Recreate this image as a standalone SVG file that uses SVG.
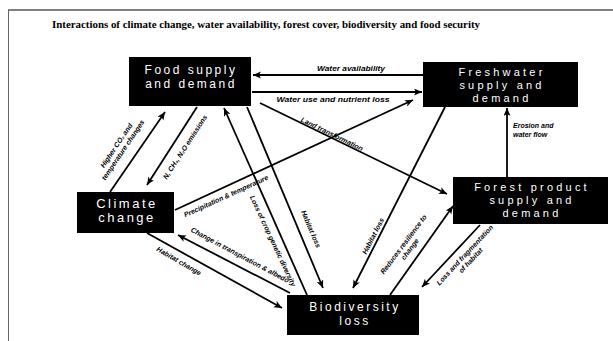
<svg xmlns="http://www.w3.org/2000/svg" width="613" height="341" viewBox="0 0 613 341">
<style>
.node rect{fill:#000}
.node text{fill:#fff;font-family:"Liberation Sans",Arial,sans-serif;font-size:12px;letter-spacing:2.5px;text-anchor:middle}
.node text.s{font-size:11px;letter-spacing:3.2px}
.edge line{stroke:#000;stroke-width:1.8;fill:none}
.lbl{font-family:"Liberation Sans",Arial,sans-serif;font-size:7px;font-style:italic;font-weight:bold;fill:#000;text-anchor:middle}
.title{font-family:"Liberation Serif","Times New Roman",serif;font-weight:bold;font-size:10px;fill:#000}
</style>
<defs>
<marker id="ah" markerUnits="userSpaceOnUse" markerWidth="9" markerHeight="8" refX="8" refY="3.5" orient="auto">
<path d="M0,0 L8,3.5 L0,7 L2,3.5 z" fill="#000"/>
</marker>
</defs>
<rect width="613" height="341" fill="#fff"/>
<line x1="8" y1="10" x2="613" y2="10" stroke="#000" stroke-width="1"/>
<line x1="8.5" y1="10" x2="8.5" y2="341" stroke="#666" stroke-width="1"/>
<text class="title" x="52" y="28" textLength="428" lengthAdjust="spacingAndGlyphs">Interactions of climate change, water availability, forest cover, biodiversity and  food security</text>

<g id="connectors" class="edge">
<line x1="423" y1="75" x2="253" y2="75" marker-end="url(#ah)"/>
<line x1="252" y1="92" x2="422" y2="92" marker-end="url(#ah)"/>
<line x1="260" y1="103" x2="447" y2="194" marker-end="url(#ah)"/>
<line x1="175" y1="210" x2="413" y2="100" marker-end="url(#ah)"/>
<line x1="110" y1="192" x2="165" y2="112" marker-end="url(#ah)"/>
<line x1="197" y1="107" x2="147" y2="185" marker-end="url(#ah)"/>
<line x1="307" y1="295" x2="224" y2="108" marker-end="url(#ah)"/>
<line x1="247" y1="107" x2="323" y2="288" marker-end="url(#ah)"/>
<line x1="445" y1="107" x2="353" y2="288" marker-end="url(#ah)"/>
<line x1="390" y1="295" x2="453" y2="206" marker-end="url(#ah)"/>
<line x1="480" y1="225" x2="422" y2="287" marker-end="url(#ah)"/>
<line x1="507" y1="177" x2="507" y2="108" marker-end="url(#ah)"/>
<line x1="147" y1="233" x2="282" y2="308" marker-end="url(#ah)"/>
<line x1="290" y1="293" x2="178" y2="235" marker-end="url(#ah)"/>

<text class="lbl" x="351" y="71" textLength="68" lengthAdjust="spacingAndGlyphs">Water availability</text>
<text class="lbl" x="333" y="102" textLength="113" lengthAdjust="spacingAndGlyphs">Water use and nutrient loss</text>
<text class="lbl" transform="translate(332,134) rotate(26)" y="2.5">Land transformation</text>
<text class="lbl" transform="translate(226,196) rotate(-24.5)" y="2.5">Precipitation &amp; temperature</text>
<g transform="translate(120,148) rotate(-56)">
<text class="lbl" y="-2">Higher CO₂ and</text>
<text class="lbl" y="6">temperature changes</text>
</g>
<text class="lbl" transform="translate(185,147) rotate(-57)" y="2.5">N, CH₄, N₂O emissions</text>
<text class="lbl" transform="translate(273,241) rotate(65)" y="2.5">Loss of crop genetic diversity</text>
<text class="lbl" transform="translate(311,229) rotate(67)" y="2.5">Habitat loss</text>
<text class="lbl" transform="translate(373,236) rotate(-63)" y="2.5">Habitat loss</text>
<g transform="translate(407,247) rotate(-53)">
<text class="lbl" y="-2">Reduces resilience to</text>
<text class="lbl" y="6">change</text>
</g>
<g transform="translate(468,258) rotate(-47)">
<text class="lbl" y="-2">Loss and fragmentation</text>
<text class="lbl" y="6">of habitat</text>
</g>
<text class="lbl" x="513" y="128" style="text-anchor:start">Erosion and</text>
<text class="lbl" x="513" y="137" style="text-anchor:start">water flow</text>
<text class="lbl" transform="translate(179,261) rotate(30)" y="2.5">Habitat change</text>
<text class="lbl" transform="translate(240,255) rotate(28)" y="2.5">Change in transpiration &amp; albedo</text>
</g>

<g id="food" class="node">
<rect x="129" y="57" width="122" height="49"/>
<text x="191" y="74">Food supply</text>
<text x="191" y="88">and demand</text>
</g>
<g id="freshwater" class="node">
<rect x="423" y="62" width="155" height="45"/>
<text class="s" x="502" y="76">Freshwater</text>
<text class="s" x="502" y="89">supply and</text>
<text class="s" x="502" y="102">demand</text>
</g>
<g id="forest" class="node">
<rect x="453" y="177" width="155" height="47"/>
<text class="s" x="532" y="191">Forest product</text>
<text class="s" x="532" y="204">supply and</text>
<text class="s" x="532" y="217">demand</text>
</g>
<g id="climate" class="node">
<rect x="77" y="192" width="97" height="41"/>
<text x="127" y="208" style="font-size:13px">Climate</text>
<text x="127" y="222" style="font-size:13px">change</text>
</g>
<g id="biodiversity" class="node">
<rect x="287" y="295" width="132" height="40"/>
<text x="355" y="311">Biodiversity</text>
<text x="355" y="325">loss</text>
</g>
</svg>
